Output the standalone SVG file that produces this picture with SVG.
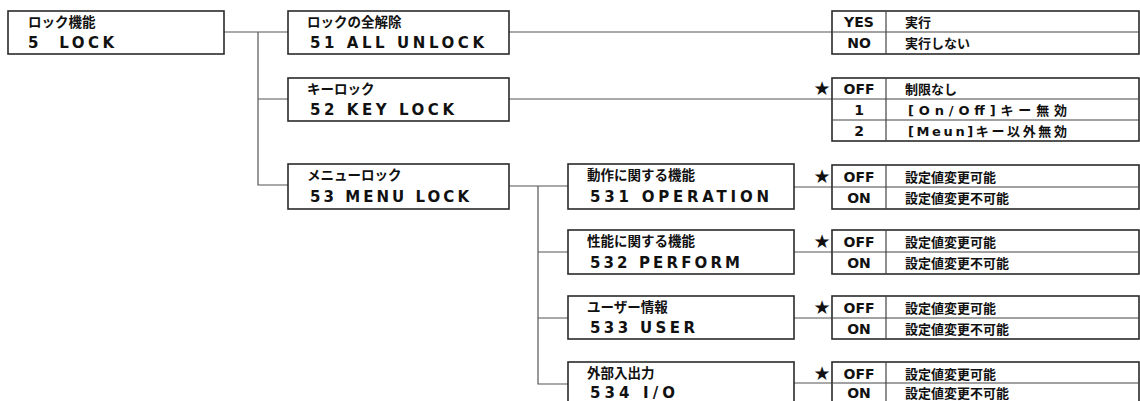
<svg xmlns="http://www.w3.org/2000/svg" width="1140" height="401" viewBox="0 0 1140 401">
<style>
.box{fill:#fff;stroke:#2a2a2a;stroke-width:1.6}
.tbl{fill:#fff;stroke:#2a2a2a;stroke-width:1.6}
.div{stroke:#444;stroke-width:1.2;fill:none}
.con{stroke:#555;stroke-width:1.2;fill:none}
.jp{font-family:"Noto Sans CJK JP",sans-serif;font-weight:700;font-size:13.5px;fill:#111}
.en{font-family:"DejaVu Sans",sans-serif;font-weight:700;font-size:15px;fill:#111}
.opt{font-family:"DejaVu Sans",sans-serif;font-weight:700;font-size:14px;fill:#111;text-anchor:middle}
.val{font-family:"Noto Sans CJK JP",sans-serif;font-weight:700;font-size:13px;fill:#111}
.mix{font-family:"DejaVu Sans","Noto Sans CJK JP",sans-serif;font-weight:700;font-size:13px;fill:#111}
.star{font-family:"DejaVu Sans",sans-serif;font-size:19px;fill:#111;text-anchor:middle}
</style>
<g id="connectors">
<path class="con" d="M224 32H288M258 32V185H288M258 99H288"/>
<path class="con" d="M509 32H832M509 99H832"/>
<path class="con" d="M509 186H568M538 186V384H568M538 252H568M538 318H568"/>
<path class="con" d="M794 187H832M794 252H832M794 318H832M794 383H832"/>
</g>
<g id="n5">
<rect class="box" x="8" y="11" width="216" height="43"/>
<text class="jp" x="28" y="27">ロック機能</text>
<text class="en" x="28" y="48" textLength="86" lengthAdjust="spacing" xml:space="preserve">5  LOCK</text>
</g>
<g id="n51">
<rect class="box" x="288" y="11" width="221" height="43"/>
<text class="jp" x="307" y="27">ロックの全解除</text>
<text class="en" x="310" y="48" textLength="174" lengthAdjust="spacing">51 ALL UNLOCK</text>
</g>
<g id="n52">
<rect class="box" x="288" y="78" width="221" height="43"/>
<text class="jp" x="307" y="94">キーロック</text>
<text class="en" x="310" y="115" textLength="144" lengthAdjust="spacing">52 KEY LOCK</text>
</g>
<g id="n53">
<rect class="box" x="288" y="164" width="221" height="45"/>
<text class="jp" x="307" y="180">メニューロック</text>
<text class="en" x="310" y="202" textLength="159" lengthAdjust="spacing">53 MENU LOCK</text>
</g>
<g id="n531">
<rect class="box" x="568" y="164" width="226" height="45"/>
<text class="jp" x="587" y="180">動作に関する機能</text>
<text class="en" x="590" y="202" textLength="179" lengthAdjust="spacing">531 OPERATION</text>
</g>
<g id="n532">
<rect class="box" x="568" y="230" width="226" height="44"/>
<text class="jp" x="587" y="246">性能に関する機能</text>
<text class="en" x="590" y="268" textLength="150" lengthAdjust="spacing">532 PERFORM</text>
</g>
<g id="n533">
<rect class="box" x="568" y="296" width="226" height="43"/>
<text class="jp" x="587" y="312">ユーザー情報</text>
<text class="en" x="590" y="333" textLength="105" lengthAdjust="spacing">533 USER</text>
</g>
<g id="n534">
<rect class="box" x="568" y="362" width="226" height="45"/>
<text class="jp" x="587" y="378">外部入出力</text>
<text class="en" x="590" y="398" textLength="85" lengthAdjust="spacing">534 I/O</text>
</g>
<g id="t51">
<rect class="tbl" x="832" y="11" width="307" height="43"/>
<path class="div" d="M886 11V54M832 32H1139"/>
<text class="opt" x="859" y="27">YES</text>
<text class="val" x="905" y="27">実行</text>
<text class="opt" x="859" y="48">NO</text>
<text class="val" x="905" y="48">実行しない</text>
</g>
<g id="t52">
<rect class="tbl" x="832" y="78" width="307" height="63"/>
<path class="div" d="M886 78V141M832 99H1139M832 120H1139"/>
<text class="star" x="822" y="95">★</text>
<text class="opt" x="859" y="94">OFF</text>
<text class="val" x="905" y="94">制限なし</text>
<text class="opt" x="859" y="115">1</text>
<text class="mix" x="908" y="115" textLength="159" lengthAdjust="spacing">[On/Off]キー無効</text>
<text class="opt" x="859" y="136">2</text>
<text class="mix" x="908" y="136" textLength="159" lengthAdjust="spacing">[Meun]キー以外無効</text>
</g>
<g id="t531">
<rect class="tbl" x="832" y="165" width="307" height="44"/>
<path class="div" d="M886 165V209M832 187H1139"/>
<text class="star" x="822" y="183">★</text>
<text class="opt" x="859" y="182">OFF</text>
<text class="val" x="905" y="182">設定値変更可能</text>
<text class="opt" x="859" y="203">ON</text>
<text class="val" x="905" y="203">設定値変更不可能</text>
</g>
<g id="t532">
<rect class="tbl" x="832" y="230" width="307" height="44"/>
<path class="div" d="M886 230V274M832 252H1139"/>
<text class="star" x="822" y="248">★</text>
<text class="opt" x="859" y="247">OFF</text>
<text class="val" x="905" y="247">設定値変更可能</text>
<text class="opt" x="859" y="268">ON</text>
<text class="val" x="905" y="268">設定値変更不可能</text>
</g>
<g id="t533">
<rect class="tbl" x="832" y="296" width="307" height="43"/>
<path class="div" d="M886 296V339M832 318H1139"/>
<text class="star" x="822" y="314">★</text>
<text class="opt" x="859" y="313">OFF</text>
<text class="val" x="905" y="313">設定値変更可能</text>
<text class="opt" x="859" y="334">ON</text>
<text class="val" x="905" y="334">設定値変更不可能</text>
</g>
<g id="t534">
<rect class="tbl" x="832" y="362" width="307" height="44"/>
<path class="div" d="M886 362V406M832 383H1139"/>
<text class="star" x="822" y="380">★</text>
<text class="opt" x="859" y="379">OFF</text>
<text class="val" x="905" y="379">設定値変更可能</text>
<text class="opt" x="859" y="398">ON</text>
<text class="val" x="905" y="398">設定値変更不可能</text>
</g>
</svg>
